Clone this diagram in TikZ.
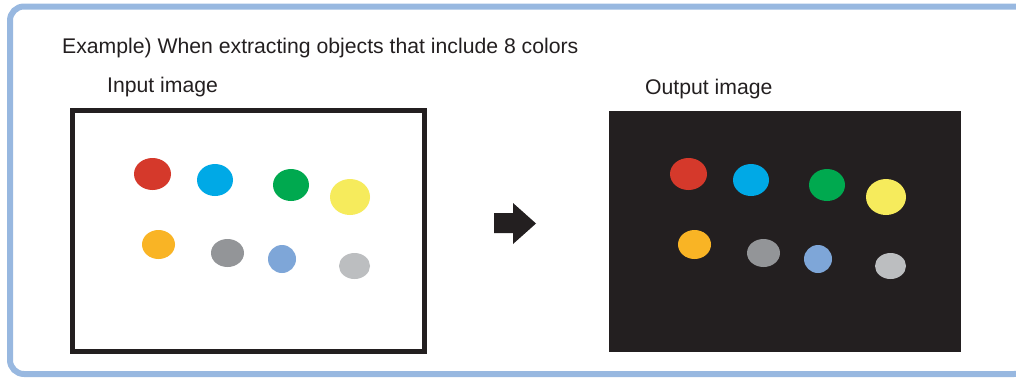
\documentclass[tikz,border=0pt]{standalone}
\usepackage{fontspec}
\setmainfont{Liberation Sans}
\usetikzlibrary{shapes.geometric}
\definecolor{framblue}{HTML}{98B8E0}
\definecolor{inkblack}{HTML}{231F20}
\definecolor{cred}{HTML}{D5392B}
\definecolor{cblue}{HTML}{00A9E6}
\definecolor{cgreen}{HTML}{00A94F}
\definecolor{cyellow}{HTML}{F6EB5C}
\definecolor{corange}{HTML}{F9B425}
\definecolor{cdgray}{HTML}{939598}
\definecolor{clblue}{HTML}{7EA6D8}
\definecolor{clgray}{HTML}{BCBEC0}
\tikzset{
	blob/.style={shape=ellipse, inner sep=0pt, draw=none},
	caption/.style={anchor=base west, inner sep=0pt, text=inkblack, font=\fontsize{21.2}{24}\selectfont},
	picframe/.style={shape=rectangle, inner sep=0pt, minimum width=352pt, minimum height=241pt}
}

\begin{document}
\begin{tikzpicture}[x=1pt, y=-1pt]
	\useasboundingbox (0, 0) rectangle (1016, 378);
	% Frame and captions:
	\draw[framblue, line width=6pt, rounded corners=14pt] (10, 6.5) rectangle (1028, 374);
	\node[caption] (title) at (62, 53){Example) When extracting objects that include 8 colors};
	\node[caption] (inlabel) at (107, 92){Input image};
	\node[caption] (outlabel) at (645, 94){Output image};
	% Input image:
	\node[picframe, draw=inkblack, line width=5pt, fill=white] (inimg) at (248.5, 231){};
	\node[blob, fill=cred, minimum width=37pt, minimum height=32pt] (inred) at (152.5, 174){};
	\node[blob, fill=cblue, minimum width=36pt, minimum height=32pt] (inblue) at (215, 180){};
	\node[blob, fill=cgreen, minimum width=36pt, minimum height=32pt] (ingreen) at (291, 185){};
	\node[blob, fill=cyellow, minimum width=40pt, minimum height=36pt] (inyellow) at (350, 197){};
	\node[blob, fill=corange, minimum width=33pt, minimum height=29pt] (inorange) at (158.5, 244.5){};
	\node[blob, fill=cdgray, minimum width=33pt, minimum height=28pt] (indgray) at (227.5, 253){};
	\node[blob, fill=clblue, minimum width=28pt, minimum height=28pt] (inlblue) at (282, 259){};
	\node[blob, fill=clgray, minimum width=31pt, minimum height=26pt] (inlgray) at (354.5, 266){};
	% Arrow:
	\fill[inkblack] (494, 213) -- (513, 213) -- (513, 203) -- (536, 223.5) -- (513, 244) -- (513, 233) -- (494, 233) -- cycle;
	% Output image:
	\node[picframe, fill=inkblack] (outimg) at (785, 231.5){};
	\node[blob, fill=cred, minimum width=37pt, minimum height=32pt] (outred) at (688.5, 174){};
	\node[blob, fill=cblue, minimum width=36pt, minimum height=32pt] (outblue) at (751, 180){};
	\node[blob, fill=cgreen, minimum width=36pt, minimum height=32pt] (outgreen) at (827, 185){};
	\node[blob, fill=cyellow, minimum width=40pt, minimum height=36pt] (outyellow) at (886, 197){};
	\node[blob, fill=corange, minimum width=33pt, minimum height=29pt] (outorange) at (694.5, 244.5){};
	\node[blob, fill=cdgray, minimum width=33pt, minimum height=28pt] (outdgray) at (763.5, 253){};
	\node[blob, fill=clblue, minimum width=28pt, minimum height=28pt] (outlblue) at (818, 259){};
	\node[blob, fill=clgray, minimum width=31pt, minimum height=26pt] (outlgray) at (890.5, 266){};
\end{tikzpicture}
\end{document}
